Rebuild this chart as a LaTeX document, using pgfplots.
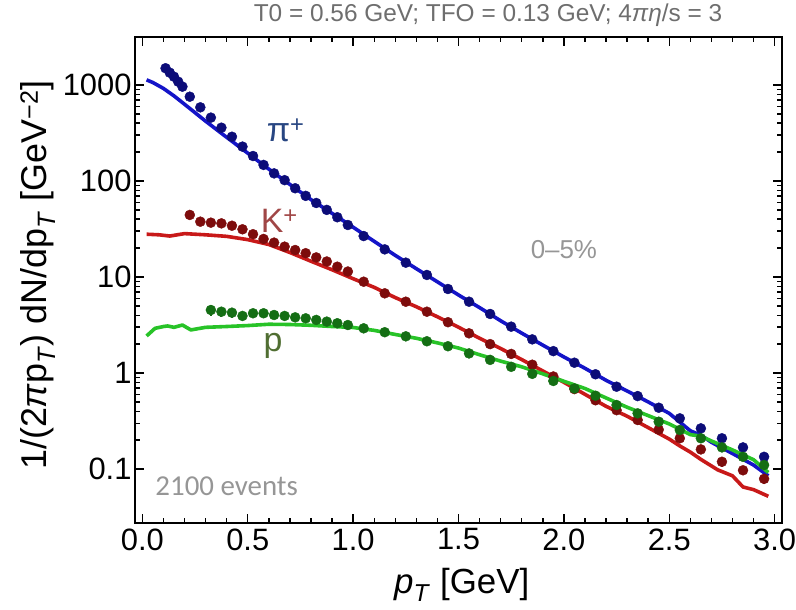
\documentclass[border=0pt]{standalone}
\usepackage{fontspec}
\setmainfont{Liberation Sans}
\newfontfamily\carlito{Carlito}
\usepackage{pgfplots}
\usepackage{pgfplotstable}
\pgfplotsset{compat=1.18}
\definecolor{pionline}{RGB}{20,20,200}
\definecolor{pionpt}{RGB}{12,12,120}
\definecolor{kaonline}{RGB}{200,25,25}
\definecolor{kaonpt}{RGB}{125,12,12}
\definecolor{protline}{RGB}{40,195,40}
\definecolor{protpt}{RGB}{20,110,20}
\definecolor{pilab}{RGB}{40,70,130}
\definecolor{klab}{RGB}{160,70,70}
\definecolor{plab}{RGB}{80,110,50}
\definecolor{annot}{RGB}{150,150,150}
\definecolor{titlec}{RGB}{110,110,110}

\pgfplotstableread{
x y e
0.11 1494 0
0.13 1343 0
0.15 1219 0
0.17 1082 0
0.19 960 0
0.225 755 0
0.275 585 0
0.325 457 0
0.375 359 0
0.425 289 0
0.475 228 0
0.525 182 0
0.575 147 0
0.625 120 0
0.675 102 0
0.725 84 0
0.775 70 0
0.825 59 0
0.875 50 0
0.925 41.9 0
0.975 34.8 0
1.05 26.7 0
1.15 19.4 0
1.25 14.1 0
1.35 10.5 0
1.45 7.5 0
1.55 5.53 0
1.65 4.12 0
1.75 3.04 0
1.85 2.24 0
1.95 1.69 0
2.05 1.28 0
2.15 0.97 0
2.25 0.72 0
2.35 0.575 0
2.45 0.435 0
2.55 0.337 0
2.65 0.265 0
2.75 0.209 0
2.85 0.168 0
2.95 0.134 0
}\pionpts

\pgfplotstableread{
x y
0.02 1130
0.05 1060
0.1 920
0.15 770
0.2 630
0.3 420
0.4 285
0.5 195
0.6 133
0.7 92
0.8 64
0.9 46
1.0 33
1.1 23.5
1.2 16.8
1.3 12.2
1.4 8.9
1.5 6.5
1.6 4.8
1.7 3.5
1.8 2.6
1.9 1.95
2.0 1.47
2.1 1.12
2.2 0.84
2.3 0.65
2.4 0.50
2.5 0.38
2.6 0.25
2.65 0.225
2.7 0.19
2.8 0.145
2.9 0.11
2.97 0.085
}\pionline

\pgfplotstableread{
x y e
0.225 44.3 4
0.275 37.7 0
0.325 36.8 0
0.375 36.2 0
0.425 34.2 0
0.475 31.4 3
0.525 27.9 0
0.575 24.9 0
0.625 22.8 0
0.675 20.7 0
0.725 19.1 0
0.775 17.7 0
0.825 16.0 0
0.875 14.5 0
0.925 12.8 0
0.975 11.4 0
1.05 8.93 0
1.15 6.76 0
1.25 5.53 0
1.35 4.35 0
1.45 3.38 0
1.55 2.59 0
1.65 2.0 0
1.75 1.58 0
1.85 1.22 0
1.95 0.92 0
2.05 0.68 0
2.15 0.52 0
2.25 0.41 0
2.35 0.324 0
2.45 0.257 0.02
2.55 0.209 0.018
2.65 0.160 0.016
2.75 0.119 0.013
2.85 0.097 0.011
2.95 0.079 0.01
}\kaonpts

\pgfplotstableread{
x y
0.02 27.9
0.08 27.5
0.13 26.7
0.2 28.3
0.3 27.5
0.4 26.5
0.5 24.5
0.6 21.8
0.7 18.0
0.8 14.6
0.9 11.9
1.0 9.6
1.1 7.8
1.2 6.1
1.3 4.9
1.4 3.85
1.5 3.0
1.6 2.3
1.7 1.8
1.8 1.38
1.9 1.05
2.0 0.80
2.1 0.60
2.2 0.45
2.3 0.355
2.4 0.27
2.5 0.205
2.55 0.174
2.6 0.15
2.65 0.126
2.73 0.098
2.8 0.085
2.85 0.065
2.9 0.061
2.97 0.052
}\kaonline

\pgfplotstableread{
x y e
0.325 4.53 0.6
0.375 4.35 0.5
0.425 4.25 0.5
0.475 3.93 0.4
0.525 4.19 0
0.575 4.19 0
0.625 4.02 0
0.675 3.93 0
0.725 3.80 0
0.775 3.71 0
0.825 3.57 0
0.875 3.43 0
0.925 3.30 0
0.975 3.16 0
1.05 2.92 0
1.15 2.66 0
1.25 2.41 0
1.35 2.14 0
1.45 1.90 0
1.55 1.60 0
1.65 1.37 0
1.75 1.16 0
1.85 0.98 0
1.95 0.826 0
2.05 0.69 0
2.15 0.58 0
2.25 0.464 0
2.35 0.38 0
2.45 0.311 0
2.55 0.255 0
2.65 0.209 0
2.75 0.168 0
2.85 0.134 0
2.95 0.110 0
}\protpts

\pgfplotstableread{
x y
0.02 2.43
0.06 2.92
0.1 3.05
0.12 3.09
0.15 2.99
0.19 3.16
0.23 2.81
0.3 2.99
0.4 3.05
0.5 3.12
0.6 3.22
0.7 3.2
0.8 3.14
0.9 3.05
1.0 2.98
1.1 2.78
1.2 2.52
1.3 2.3
1.4 2.06
1.5 1.82
1.6 1.55
1.7 1.33
1.8 1.16
1.9 0.98
2.0 0.82
2.1 0.69
2.2 0.55
2.3 0.44
2.4 0.36
2.5 0.295
2.6 0.228
2.65 0.22
2.7 0.196
2.8 0.158
2.9 0.125
2.97 0.092
}\protline

\begin{document}
\begin{tikzpicture}
\path[use as bounding box] (0,0) rectangle (796bp,610bp);
\begin{axis}[
  at={(135bp,87bp)}, anchor=south west,
  scale only axis, width=647bp, height=486bp,
  ymode=log,
  xmin=-0.035, xmax=3.035, ymin=0.0274, ymax=3160,
  xtick={0,0.5,1,1.5,2,2.5,3},
  xticklabels={0.0,0.5,1.0,1.5,2.0,2.5,3.0},
  minor x tick num=4,
  ytick={0.1,1,10,100,1000},
  yticklabels={0.1,1,10,100,1000},
  /pgf/number format/assume math mode=true,
  tick label style={font=\fontsize{31}{33}\selectfont},
  xticklabel style={yshift=-2bp},
  tick align=inside,
  major tick length=9bp, minor tick length=5bp,
  every tick/.style={black, line width=1.4bp},
  axis line style={line width=2bp},
  xlabel={\textit{p}\textsubscript{\textit{T}} [GeV]},
  ylabel={1/(2\textit{π}p\textsubscript{\textit{T}}) dN/dp\textsubscript{\textit{T}} [GeV\textsuperscript{−2}]},
  label style={font=\fontsize{35}{37}\selectfont},
  ylabel style={font=\fontsize{36}{38}\selectfont},
  xlabel style={at={(axis description cs:0.505,-0.128)}, anchor=center},
  ylabel style={at={(axis description cs:-0.150,0.51)}, anchor=center},
  clip=true,
]
\addplot[pionline, line width=3.6bp, line join=round] table[x=x,y=y]{\pionline};
\addplot[kaonline, line width=3.6bp, line join=round] table[x=x,y=y]{\kaonline};
\addplot[protline, line width=3.6bp, line join=round] table[x=x,y=y]{\protline};
\addplot[only marks, mark=*, mark size=5bp, color=pionpt,
  error bars/.cd, y dir=both, y explicit, error mark=none,
  error bar style={line width=2bp}] table[x=x,y=y,y error=e]{\pionpts};
\addplot[only marks, mark=*, mark size=5bp, color=kaonpt,
  error bars/.cd, y dir=both, y explicit, error mark=none,
  error bar style={line width=2bp}] table[x=x,y=y,y error=e]{\kaonpts};
\addplot[only marks, mark=*, mark size=5bp, color=protpt,
  error bars/.cd, y dir=both, y explicit, error mark=none,
  error bar style={line width=2bp}] table[x=x,y=y,y error=e]{\protpts};
\node[pilab, font=\fontsize{34}{36}\selectfont] at (axis cs:0.68,335) {π\textsuperscript{+}};
\node[klab, font=\fontsize{34}{36}\selectfont] at (axis cs:0.65,38) {K\textsuperscript{+}};
\node[plab, font=\fontsize{34}{36}\selectfont] at (axis cs:0.62,1.9) {p};
\node[annot, font=\fontsize{26}{28}\selectfont] at (axis cs:2.0,19.1) {0–5\%};
\node[annot, font=\carlito\fontsize{29}{31}\selectfont] at (axis cs:0.40,0.0655) {2100 events};
\end{axis}
\node[titlec, font=\fontsize{24.5}{27}\selectfont] at (488bp,595bp) {T0 = 0.56 GeV; TFO = 0.13 GeV; 4\textit{πη}/s = 3};
\end{tikzpicture}
\end{document}
